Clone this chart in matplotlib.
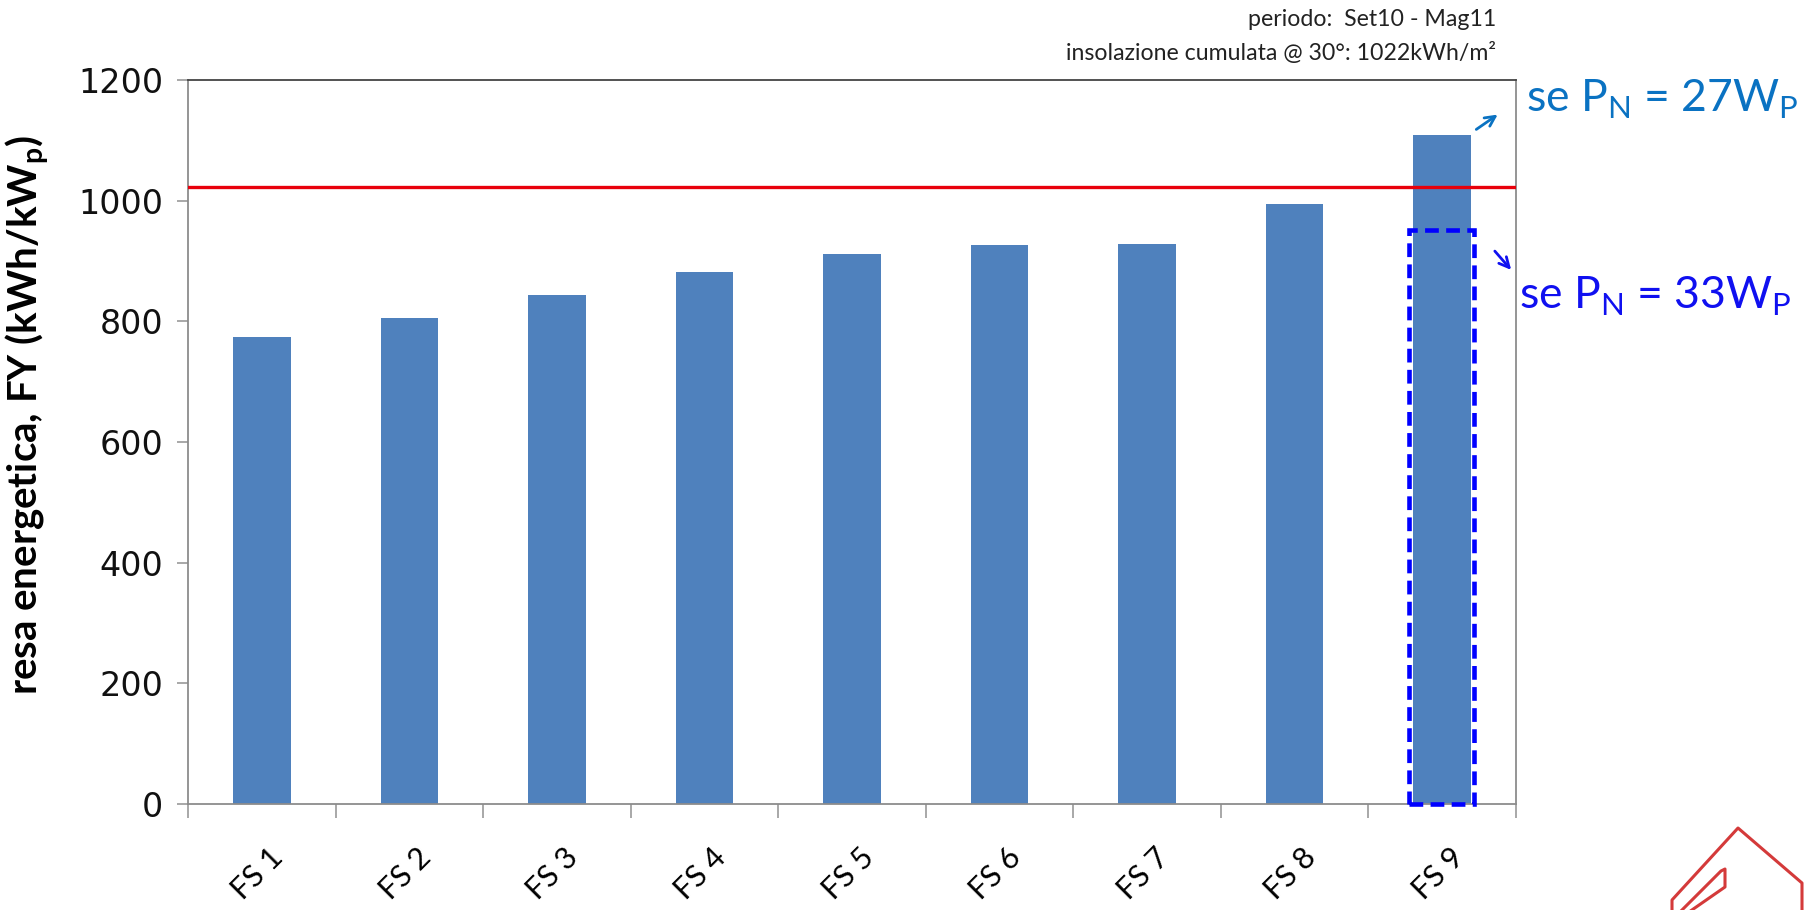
import matplotlib
matplotlib.use("Agg")
import numpy as np
import matplotlib.pyplot as plt
from matplotlib.patches import Rectangle, FancyArrowPatch
from matplotlib.lines import Line2D
from matplotlib.transforms import ScaledTranslation

# resa energetica per stazione (kWh/kWp)
stazioni = ["FS 1", "FS 2", "FS 3", "FS 4", "FS 5", "FS 6", "FS 7", "FS 8", "FS 9"]
resa = [774, 806, 844, 882, 912, 927, 928, 995, 1109]
resa_fs9_33w = 951          # FS 9 ricalcolata con PN = 33Wp
insolazione = 1022          # kWh/m2 cumulati @ 30°
y_ticks = [0, 200, 400, 600, 800, 1000, 1200]

plt.rcParams['mathtext.fontset'] = 'custom'
plt.rcParams['mathtext.rm'] = 'Lato'
plt.rcParams['mathtext.bf'] = 'Lato:bold'

W, H = 1807, 910
fig = plt.figure(figsize=(W/100, H/100), dpi=100)
ax = fig.add_axes([188/W, 1-804/H, (1516-188)/W, (804-80)/H])

x = np.arange(len(stazioni))
ax.bar(x, resa, width=0.39, color='#4F81BD', zorder=2)
ax.axhline(insolazione, color='#E8000B', lw=2.4, zorder=3)
ax.add_patch(Rectangle((x[-1]-0.225, 0), 0.44, resa_fs9_33w, fill=False,
                       ec='#0000FF', lw=3.3, ls=(0, (3, 1.6)), zorder=4,
                       clip_on=False))

ax.set_xlim(-0.5, len(stazioni)-0.5)
ax.set_ylim(0, 1200)
ax.set_yticks(y_ticks)
ax.set_yticklabels([str(v) for v in y_ticks], fontsize=24, family='DejaVu Sans',
                   color='#111111')
ax.tick_params(axis='y', direction='out', length=8, width=1.2, color='#999999', pad=10)

# etichette centrate sulle barre, tacche sui confini delle categorie
ax.set_xticks(x)
ax.set_xticklabels(stazioni, rotation=45, ha='right', va='center',
                   rotation_mode='anchor', fontsize=22, family='Lato')
ax.set_xticks(np.arange(-0.5, len(stazioni)), minor=True)
ax.tick_params(axis='x', which='major', length=0, pad=35)
ax.tick_params(axis='x', which='minor', direction='out', length=10, width=1.2,
               color='#999999')
for lab in ax.get_xticklabels():
    lab.set_transform(lab.get_transform() + ScaledTranslation(0.17, 0, fig.dpi_scale_trans))

for side in ['left', 'bottom', 'right']:
    ax.spines[side].set_color('#8c8c8c')
    ax.spines[side].set_linewidth(1.3)
ax.spines['top'].set_color('#444444')
ax.spines['top'].set_linewidth(1.3)

ax.set_ylabel(r"resa energetica, FY (kWh/kW$_\mathbf{p}$)", fontsize=29,
              family='Lato', fontweight='bold')
ax.yaxis.set_label_coords(-0.103, 0.537)

# intestazione
fig.text(1496/W, 1-20/H, "periodo:  Set10 - Mag11", ha='right', va='center',
         fontsize=16.7, family='Lato', color='#222222')
fig.text(1496/W, 1-53/H, "insolazione cumulata @ 30°: 1022kWh/m²", ha='right',
         va='center', fontsize=16.7, family='Lato', color='#222222')

# annotazioni FS 9
c27 = '#0A72C2'
c33 = '#1010F0'
fig.text(1526/W, 1-112/H, r"se P$_\mathrm{N}$ = 27W$_\mathrm{P}$", ha='left',
         va='baseline', fontsize=32, family='Lato', color=c27)
fig.text(1519/W, 1-309/H, r"se P$_\mathrm{N}$ = 33W$_\mathrm{P}$", ha='left',
         va='baseline', fontsize=32, family='Lato', color=c33)
fig.add_artist(FancyArrowPatch(
    (1474/W, 1-131/H), (1500/W, 1-113/H), transform=fig.transFigure,
    arrowstyle='->', mutation_scale=18, color=c27, lw=2))
fig.add_artist(FancyArrowPatch(
    (1493/W, 1-249/H), (1513/W, 1-272/H), transform=fig.transFigure,
    arrowstyle='->', mutation_scale=18, color=c33, lw=2))

# logo in basso a destra
logo_c = '#D43A3A'
outer = [(1672, 912), (1672, 900), (1738, 828), (1802, 883), (1802, 912)]
inner = [(1680, 912), (1721, 871), (1725, 869), (1725, 887), (1689, 912)]
for pts in (outer, inner):
    xs = [p[0]/W for p in pts]
    ys = [1-p[1]/H for p in pts]
    fig.add_artist(Line2D(xs, ys, transform=fig.transFigure, color=logo_c, lw=2.2))

fig.savefig("out.png", dpi=100, facecolor='white')
